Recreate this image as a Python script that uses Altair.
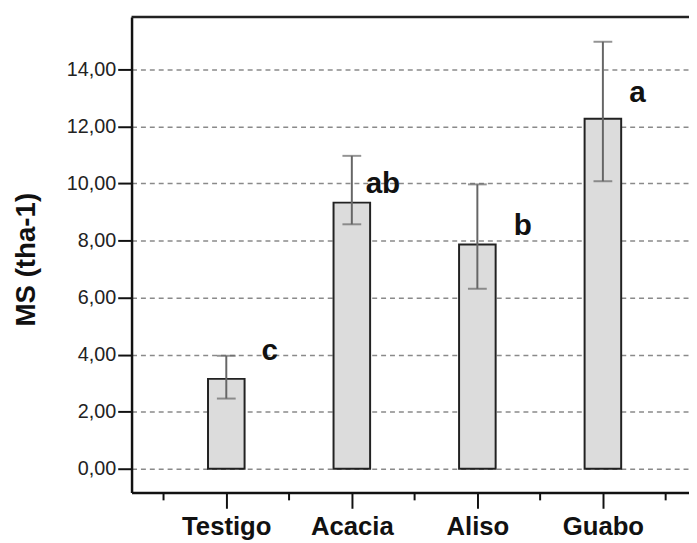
import json
import altair as alt
import pandas as pd

# ---- data ----
categories = ["Testigo", "Acacia", "Aliso", "Guabo"]
means = [3.15, 9.33, 7.86, 12.27]
err_low = [2.46, 8.57, 6.31, 10.08]
err_high = [3.96, 10.97, 9.97, 14.97]
letters = ["c", "ab", "b", "a"]
letter_x = [0.28, 1.11, 2.29, 3.21]      # in category-index units
letter_y = [3.81, 9.66, 8.18, 12.86]     # baseline value of each letter
y_ticks = [0, 2, 4, 6, 8, 10, 12, 14]
band_edges = [-0.5, 0.5, 1.5, 2.5, 3.5]

W, H = 564, 481
FONT = "Liberation Sans"

df = pd.DataFrame({
    "idx": list(range(len(categories))),
    "cat": categories,
    "mean": means,
    "lo": err_low,
    "hi": err_high,
})
lab = pd.DataFrame({"lx": letter_x, "ly": letter_y, "letter": letters})
edges = pd.DataFrame({"e": band_edges})

xscale = alt.Scale(domain=[-0.7154, 3.6466], nice=False, zero=False)
yscale = alt.Scale(domain=[-0.832, 15.837], nice=False, zero=False)

cat_expr = json.dumps(categories) + "[datum.value]"

xaxis = alt.Axis(
    values=list(range(len(categories))), labelExpr=cat_expr, title=None,
    grid=False, domain=True, domainColor="#111", domainWidth=2.5,
    ticks=True, tickSize=16, tickWidth=2, tickColor="#111",
    labelFont=FONT, labelFontSize=26, labelFontWeight="bold", labelColor="#111",
    labelPadding=6, labelBaseline="top", labelFlush=False,
)
yaxis = alt.Axis(
    values=y_ticks, labelExpr="replace(format(datum.value, '.2f'), '.', ',')",
    title="MS (tha-1)", titleFont=FONT, titleFontSize=28, titleFontWeight="bold",
    titleColor="#111", titleAngle=-90, titleAlign="center", titleBaseline="middle",
    titleX=-106, titleY=245,
    grid=True, gridColor="#8a8a8a", gridDash=[5, 4], gridWidth=1.5,
    domain=True, domainColor="#111", domainWidth=2.5,
    ticks=True, tickSize=14, tickWidth=2, tickColor="#111",
    labelFont=FONT, labelFontSize=20, labelColor="#222", labelPadding=2,
)

base = alt.Chart(df)

bars = base.mark_bar(size=37, fill="#dcdcdc", stroke="#222", strokeWidth=2).encode(
    x=alt.X("idx:Q", scale=xscale, axis=xaxis),
    y=alt.Y("mean:Q", scale=yscale, axis=yaxis),
    y2=alt.datum(0),
)

err = base.mark_rule(color="#666", strokeWidth=2).encode(
    x=alt.X("idx:Q", scale=xscale), y=alt.Y("lo:Q", scale=yscale), y2="hi:Q"
)
cap_lo = base.mark_tick(orient="horizontal", size=19, thickness=2, color="#666").encode(
    x=alt.X("idx:Q", scale=xscale), y=alt.Y("lo:Q", scale=yscale)
)
cap_hi = base.mark_tick(orient="horizontal", size=19, thickness=2, color="#666").encode(
    x=alt.X("idx:Q", scale=xscale), y=alt.Y("hi:Q", scale=yscale)
)

text = alt.Chart(lab).mark_text(
    align="left", baseline="alphabetic", font=FONT, fontSize=30,
    fontWeight="bold", color="#111",
).encode(
    x=alt.X("lx:Q", scale=xscale), y=alt.Y("ly:Q", scale=yscale), text="letter:N"
)

minor = alt.Chart(edges).mark_rule(color="#111", strokeWidth=2).encode(
    x=alt.X("e:Q", scale=xscale), y=alt.value(H), y2=alt.value(H + 8)
)

top = alt.Chart(pd.DataFrame({"k": [0]})).mark_rule(color="#222", strokeWidth=2.5).encode(
    x=alt.value(0), x2=alt.value(W), y=alt.value(0)
)

chart = alt.layer(bars, err, cap_lo, cap_hi, text, minor, top).properties(
    width=W, height=H,
    autosize=alt.AutoSizeParams(type="none"),
    padding={"left": 125, "top": 6, "right": 0, "bottom": 48},
    background="white",
).configure_view(stroke=None)

chart.save("out.html", embed_options={"renderer": "svg", "actions": False})
